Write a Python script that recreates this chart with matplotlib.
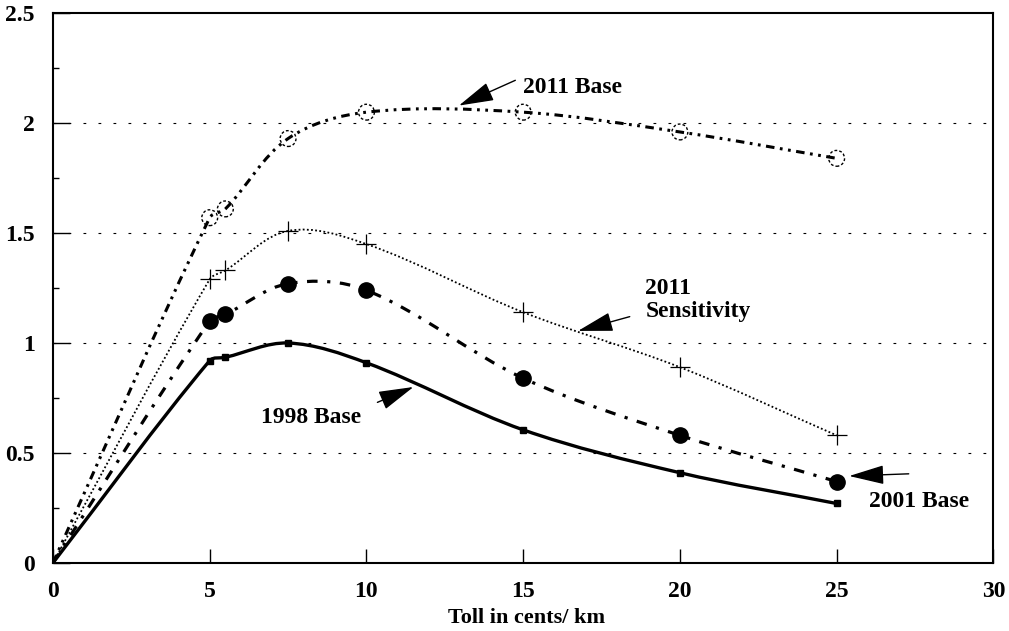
#
# Toll revenue curves (1998, 2001, 2011 base and 2011 sensitivity)
#

import numpy as np
import matplotlib.pyplot as plt
from matplotlib.path import Path
from matplotlib.patches import PathPatch
from matplotlib.ticker import MultipleLocator

plt.rcParams['font.family'] = ['Liberation Serif', 'DejaVu Serif']
plt.rcParams['font.weight'] = 'bold'

# toll in cents/km
toll = [0, 5, 5.5, 7.5, 10, 15, 20, 25]

# series values
base_2011 = [0, 1.57, 1.61, 1.93, 2.05, 2.05, 1.96, 1.84]
sens_2011 = [0, 1.29, 1.33, 1.51, 1.45, 1.14, 0.89, 0.58]
base_2001 = [0, 1.10, 1.13, 1.27, 1.24, 0.84, 0.58, 0.37]
base_1998 = [0, 0.92, 0.935, 1.00, 0.91, 0.605, 0.41, 0.27]


#
# FUNCTION: smoothed line through the points (cardinal bezier, like a
# spreadsheet "smoothed line"), drawn as a path in data coordinates
#
def smooth_line(ax, x, y, **kw):
    # work in a roughly isotropic space (pixels per unit of each axis)
    sx, sy = 31.3, 220.0
    P = np.column_stack([np.asarray(x, float) * sx, np.asarray(y, float) * sy])
    n = len(P)
    dirs = []
    for i in range(n):
        d = P[min(i + 1, n - 1)] - P[max(i - 1, 0)]
        dirs.append(d / np.hypot(*d))
    verts = [tuple(P[0])]
    codes = [Path.MOVETO]
    for i in range(n - 1):
        L = np.hypot(*(P[i + 1] - P[i])) / 3
        c1 = P[i] + dirs[i] * L
        c2 = P[i + 1] - dirs[i + 1] * L
        verts += [tuple(c1), tuple(c2), tuple(P[i + 1])]
        codes += [Path.CURVE4] * 3
    verts = [(vx / sx, vy / sy) for vx, vy in verts]
    patch = PathPatch(Path(verts, codes), facecolor='none', edgecolor='black',
                      capstyle='butt', **kw)
    ax.add_patch(patch)


fig = plt.figure(figsize=(10.09, 6.31), dpi=100)
ax = fig.add_axes([0.0525, 0.108, 0.932, 0.871])

ax.set_xlim(0, 30)
ax.set_ylim(0, 2.5)

# gridlines
for g in [0.5, 1.0, 1.5, 2.0]:
    ax.axhline(g, color='black', lw=0.8, linestyle=(0, (2.5, 11)), zorder=1)

# lines
smooth_line(ax, toll, base_2011, lw=2.2,
            linestyle=(0, (2.8, 1.8, 0.9, 1.8, 0.9, 1.8)), zorder=3)
smooth_line(ax, toll, sens_2011, lw=1.3, linestyle=(0, (1, 1.3)), zorder=3)
smooth_line(ax, toll, base_2001, lw=2.3, linestyle=(0, (3.3, 3, 1, 3)), zorder=3)
smooth_line(ax, toll, base_1998, lw=2.4, linestyle='-', zorder=3)

# markers (not at the origin)
ax.scatter(toll[1:], base_2011[1:], s=130, facecolors='none', edgecolors='black',
           linewidths=1.0, linestyles=(0, (2, 1.5)), zorder=4)
ax.plot(toll[1:], sens_2011[1:], ls='none', marker='+', ms=15, mew=0.9,
        color='black', zorder=4)
ax.plot(toll[1:], base_2001[1:], ls='none', marker='o', ms=11, color='black',
        zorder=4)
ax.plot(toll[1:], base_1998[1:], ls='none', marker='s', ms=5, color='black',
        zorder=4)

# labels with arrows
arrow = dict(arrowstyle='-|>,head_length=1.1,head_width=0.3', color='black',
             lw=1.0, shrinkA=0, shrinkB=0, mutation_scale=20)
ax.text(15.0, 2.16, '2011 Base', fontsize=17, ha='left', va='center')
ax.annotate('', xy=(12.95, 2.08), xytext=(14.75, 2.195), arrowprops=arrow)

ax.text(18.9, 1.195, '2011\nSensitivity', fontsize=17, ha='left', va='center',
        linespacing=1.1)
ax.annotate('', xy=(16.75, 1.055), xytext=(18.4, 1.12), arrowprops=arrow)

ax.text(8.24, 0.66, '1998 Base', fontsize=17, ha='center', va='center')
ax.annotate('', xy=(11.5, 0.80), xytext=(10.35, 0.73), arrowprops=arrow)

ax.text(27.64, 0.277, '2001 Base', fontsize=17, ha='center', va='center')
ax.annotate('', xy=(25.4, 0.395), xytext=(27.3, 0.405), arrowprops=arrow)

# axes and ticks
ax.xaxis.set_major_locator(MultipleLocator(5))
ax.yaxis.set_minor_locator(MultipleLocator(0.25))
ax.set_yticks([0, 0.5, 1, 1.5, 2, 2.5])
ax.set_yticklabels(['0', '0.5', '1', '1.5', '2', '2.5'])
ax.tick_params(axis='x', direction='in', length=10, width=1.0, pad=13,
               labelsize=17, top=False)
ax.tick_params(axis='y', which='major', direction='in', length=12, width=1.0,
               pad=13, labelsize=17, right=False)
ax.tick_params(axis='y', which='minor', direction='in', length=4.5, width=1.0,
               right=False)
ax.tick_params(axis='x', which='minor', bottom=False, top=False)
for s in ax.spines.values():
    s.set_linewidth(1.5)

ax.set_xlabel('Toll in cents/ km', fontsize=16, fontweight='bold')
ax.xaxis.set_label_coords(0.504, -0.082)

fig.savefig('out.png', dpi=100)
